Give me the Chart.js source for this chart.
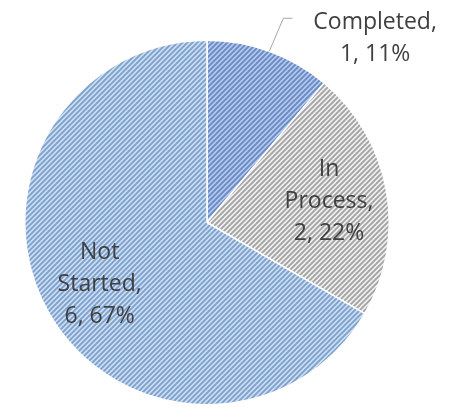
<!DOCTYPE html>
<html>
<head>
<meta charset="utf-8">
<script src="https://cdn.jsdelivr.net/npm/chart.js@4.4.1/dist/chart.umd.min.js"></script>
<style>
  html, body { margin: 0; padding: 0; background: #ffffff; }
  #wrap { width: 458px; height: 409px; }
</style>
</head>
<body>
<div id="wrap"><canvas id="c" width="458" height="409"></canvas></div>
<script>
// Task status breakdown
const categories = ['Completed', 'In Process', 'Not Started'];
const counts = [1, 2, 6];

// Hatch fills: [background, stripe]
const fillBase = ['#b3caef', '#efefef', '#c9def4'];
const fillStripe = ['#6a88c2', '#a2a2a2', '#7f9fca'];

const LABEL_FONT = '23px "Open Sans", "Liberation Sans", sans-serif';
const LABEL_COLOR = '#404040';
const LINE_H = 32;

function hatch(bg, fg) {
  const s = 5;
  const t = document.createElement('canvas');
  t.width = s; t.height = s;
  const g = t.getContext('2d');
  g.fillStyle = bg;
  g.fillRect(0, 0, s, s);
  g.strokeStyle = fg;
  g.lineWidth = 1.8;
  g.beginPath();
  g.moveTo(-1, s + 1); g.lineTo(s + 1, -1);
  g.moveTo(-1, 1); g.lineTo(1, -1);
  g.moveTo(s - 1, s + 1); g.lineTo(s + 1, s - 1);
  g.stroke();
  return document.getElementById('c').getContext('2d').createPattern(t, 'repeat');
}

const total = counts.reduce((a, b) => a + b, 0);
function labelLines(i) {
  const words = categories[i].split(' ');
  words[words.length - 1] += ',';
  const pct = Math.round(counts[i] / total * 100);
  return words.concat([counts[i] + ', ' + pct + '%']);
}

// Draws "Category, value, pct%" labels; small slices go outside with a leader line
const sliceLabels = {
  id: 'sliceLabels',
  afterDatasetsDraw(chart) {
    const ctx = chart.ctx;
    const meta = chart.getDatasetMeta(0);
    ctx.save();
    ctx.font = LABEL_FONT;
    ctx.fillStyle = LABEL_COLOR;
    ctx.textAlign = 'center';
    ctx.textBaseline = 'middle';
    meta.data.forEach((arc, i) => {
      const lines = labelLines(i);
      const mid = (arc.startAngle + arc.endAngle) / 2;
      const frac = counts[i] / total;
      if (frac < 0.15) {
        const px = arc.x + Math.cos(mid) * arc.outerRadius;
        const py = arc.y + Math.sin(mid) * arc.outerRadius;
        const ex = px + 14, ey = py - 33;
        ctx.strokeStyle = '#a6a6a6';
        ctx.lineWidth = 1;
        ctx.beginPath();
        ctx.moveTo(px, py);
        ctx.lineTo(ex, ey);
        ctx.lineTo(ex + 9, ey);
        ctx.stroke();
        const w = Math.max(...lines.map(l => ctx.measureText(l).width));
        const cx = ex + 30 + w / 2;
        const cy = ey + 4;
        lines.forEach((l, k) => ctx.fillText(l, cx, cy + k * LINE_H));
      } else {
        const r = arc.outerRadius * 0.68;
        const cx = arc.x + Math.cos(mid) * r;
        const cy = arc.y + Math.sin(mid) * r;
        const top = cy - (lines.length - 1) * LINE_H / 2;
        lines.forEach((l, k) => ctx.fillText(l, cx, top + k * LINE_H));
      }
    });
    ctx.restore();
  }
};

new Chart(document.getElementById('c'), {
  type: 'pie',
  data: {
    labels: categories,
    datasets: [{
      data: counts,
      backgroundColor: categories.map((_, i) => hatch(fillBase[i], fillStripe[i])),
      borderColor: '#ffffff',
      borderWidth: 1.5
    }]
  },
  options: {
    responsive: false,
    animation: false,
    layout: { padding: { top: 39, bottom: 3, left: 24, right: 68 } },
    plugins: {
      legend: { display: false },
      tooltip: { enabled: false }
    }
  },
  plugins: [sliceLabels]
});
</script>
</body>
</html>
